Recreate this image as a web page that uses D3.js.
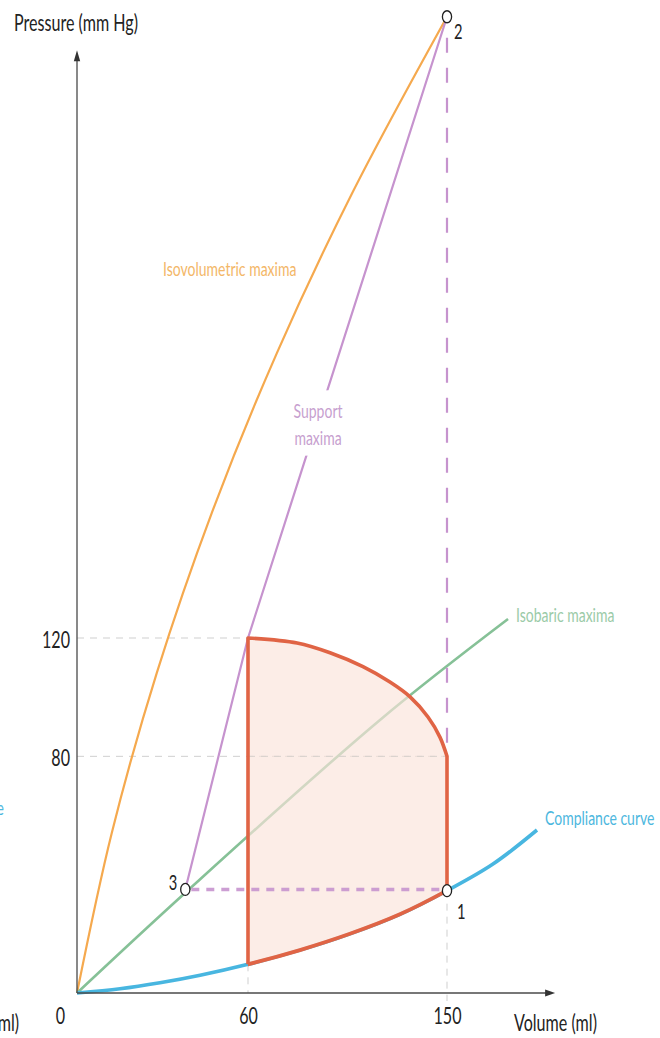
<!DOCTYPE html>
<html><head><meta charset="utf-8">
<script src="https://cdn.jsdelivr.net/npm/d3@7"></script>
<style>
body{margin:0;background:#fff;}
svg{display:block;font-family:Lato,"Open Sans",sans-serif;}
</style>
</head><body>
<svg id="c" width="660" height="1038"></svg>
<script>
// ---------- data (volume ml, pressure mm Hg) ----------
const volumeTicks = [0, 60, 150];
const pressureTicks = [80, 120];
const volumeAxisMax = 198;
const pressureAxisMax = 318;
const isovolumetric = [[0,0],[12.2,54.1],[28.0,108.2],[47.3,162.3],[73.1,216.4],[107.2,270.5],[150,330]];
const isobaric = [[0,0],[37.9,33.8],[119.7,92.3],[177.6,126.4]];
const compliance = [[0,0],[15.1,1.42],[29.1,3.45],[43.2,6.0],[60,9.7],[83.5,14.5],[106.1,20.0],[128.7,26.6],[150,34.6],[170.8,43.6],[190.7,55.1]];
const complianceLoop = [[150,34.6],[128.7,26.6],[106.1,20.0],[83.5,14.5],[60,9.7]];
const ejection = [[60,120],[82.2,118.3],[97.1,115.0],[112.0,110.3],[124.2,105.1],[133.3,100.1],[141.4,93.3],[146.8,86.5],[150,80]];
const support = [[38,35],[60,120],[150,330]];
const points = [{id:"1", v:150, p:34.6},{id:"2", v:150, p:330},{id:"3", v:38, p:35}];

// ---------- setup ----------
const svg = d3.select("#c");
const SX = 0.7; // horizontal squeeze of the original artwork
const x = d3.scaleLinear().domain([0,60,150]).range([77,248,447]);
const y = d3.scaleLinear().domain([0,120]).range([993,638]);
const line = d3.line().x(d=>x(d[0])).y(d=>y(d[1]));
const smooth = d3.line().x(d=>x(d[0])).y(d=>y(d[1])).curve(d3.curveCatmullRom.alpha(0.5));

const C = {orange:"#f5a94e", purple:"#c693ce", green:"#86c197", blue:"#48b6e0", red:"#e06445",
           orangeT:"#f3b768", purpleT:"#c79fcf", greenT:"#9bcba8", blueT:"#4db7de"};

function label(g, txt, px, py, size, color, anchor){
  return g.append("text").attr("transform",`translate(${px},${py}) scale(${SX},1)`)
    .attr("text-anchor",anchor||"start").attr("font-size",size).attr("fill",color).text(txt);
}

// ---------- grid dashed guides ----------
const guides = svg.append("g").attr("stroke","#cfcfcf").attr("stroke-width",1).attr("stroke-dasharray","7,6").attr("fill","none");
guides.append("line").attr("x1",x(0)).attr("x2",x(60)).attr("y1",y(120)).attr("y2",y(120));
guides.append("line").attr("x1",x(0)).attr("x2",x(150)).attr("y1",y(80)).attr("y2",y(80));
guides.append("line").attr("x1",x(60)).attr("x2",x(60)).attr("y1",y(9.7)).attr("y2",y(0));
guides.append("line").attr("x1",x(150)).attr("x2",x(150)).attr("y1",y(34.6)).attr("y2",y(0)+8);

// ---------- curves under the loop ----------
svg.append("path").attr("d",smooth(isovolumetric)).attr("fill","none").attr("stroke",C.orange).attr("stroke-width",2.2);
svg.append("path").attr("d",smooth(isobaric)).attr("fill","none").attr("stroke",C.green).attr("stroke-width",2.6);
svg.append("path").attr("d",smooth(compliance)).attr("fill","none").attr("stroke",C.blue).attr("stroke-width",3.6);

// ---------- loop fill ----------
const topPath = smooth(ejection);
const bottomPath = smooth(complianceLoop).replace(/^M/,"L");
const fillPath = `M${x(60)},${y(9.7)}L${topPath.slice(1)}${bottomPath}Z`;
svg.append("path").attr("d",fillPath).attr("fill","#fbe3da").attr("fill-opacity",0.65).attr("stroke","none");

// guide at 80 drawn again through the fill
svg.append("line").attr("x1",x(60)).attr("x2",x(150)).attr("y1",y(80)).attr("y2",y(80))
  .attr("stroke","#d6d0cc").attr("stroke-width",1).attr("stroke-dasharray","7,6");

// ---------- support maxima ----------
svg.append("path").attr("d",line(support)).attr("fill","none").attr("stroke",C.purple).attr("stroke-width",2.2);
svg.append("line").attr("x1",x(150)).attr("x2",x(150)).attr("y1",y(330)).attr("y2",y(80))
  .attr("stroke",C.purple).attr("stroke-width",2.2).attr("stroke-dasharray","15,15").attr("stroke-dashoffset",9);
svg.append("line").attr("x1",x(38)+6).attr("x2",x(150)-6).attr("y1",y(35)).attr("y2",y(35))
  .attr("stroke",C.purple).attr("stroke-width",3.5).attr("stroke-dasharray","8,7").attr("stroke-opacity",0.9);

// ---------- red outline ----------
svg.append("path").attr("d",`M${x(60)},${y(9.7)}L${topPath.slice(1)}L${x(150)},${y(34.6)}`)
  .attr("fill","none").attr("stroke",C.red).attr("stroke-width",3.6).attr("stroke-linejoin","round");
svg.append("clipPath").attr("id","loopclip").append("rect")
  .attr("x",x(60)).attr("y",0).attr("width",x(150)-x(60)).attr("height",1038);
svg.append("path").attr("d",smooth(compliance)).attr("clip-path","url(#loopclip)")
  .attr("fill","none").attr("stroke",C.red).attr("stroke-width",3.8);

// ---------- axes ----------
const ax = svg.append("g").attr("stroke","#4a4a4a").attr("stroke-width",1.3);
ax.append("line").attr("x1",x(0)).attr("y1",y(0)).attr("x2",x(volumeAxisMax)-2).attr("y2",y(0));
ax.append("line").attr("x1",x(0)).attr("y1",y(0)).attr("x2",x(0)).attr("y2",y(pressureAxisMax)+2);
const xe = x(volumeAxisMax), ye = y(pressureAxisMax);
svg.append("path").attr("d",`M${xe+2},${y(0)}L${xe-8},${y(0)-3.5}L${xe-8},${y(0)+3.5}Z`).attr("fill","#333");
svg.append("path").attr("d",`M${x(0)},${ye-2}L${x(0)-3.2},${ye+9}L${x(0)+3.2},${ye+9}Z`).attr("fill","#333");

const xAxis = svg.append("g").attr("transform",`translate(0,${y(0)})`)
  .call(d3.axisBottom(x).tickValues(volumeTicks).tickSize(0).tickPadding(0));
xAxis.select(".domain").remove();
xAxis.selectAll("text").attr("font-size",23).attr("fill","#222").attr("font-family","Lato")
  .attr("y",0).attr("dy",0).attr("transform",`translate(0,31) scale(${SX},1)`);
xAxis.selectAll(".tick").filter(d=>d===0).select("text").attr("x",-17/SX);

const yAxis = svg.append("g").attr("transform",`translate(${x(0)},0)`)
  .call(d3.axisLeft(y).tickValues(pressureTicks).tickSize(0).tickPadding(0));
yAxis.select(".domain").remove();
yAxis.selectAll("text").attr("font-size",23).attr("fill","#222").attr("font-family","Lato")
  .attr("x",0).attr("dy","0.35em").attr("transform",`translate(-7,1) scale(${SX},1)`);

// ---------- point markers ----------
const pg = svg.append("g");
pg.selectAll("ellipse").data(points).join("ellipse")
  .attr("cx",d=>x(d.v)).attr("cy",d=>y(d.p)).attr("rx",4.6).attr("ry",6)
  .attr("fill","#fff").attr("stroke","#222").attr("stroke-width",1.3);
const plab = {"1":[10,28,"start"],"2":[7,22,"start"],"3":[-8,1,"end"]};
points.forEach(d=>{
  const o = plab[d.id];
  label(pg, d.id, x(d.v)+o[0], y(d.p)+o[1], 21, "#222", o[2]);
});

// ---------- text labels ----------
const tg = svg.append("g");
label(tg,"Pressure (mm Hg)",14,31,23,"#222");
label(tg,"Volume (ml)",514,1031,23,"#222");
label(tg,"Volume (ml)",19,1031,23,"#222","end");
label(tg,"Isovolumetric maxima",163,276,20,C.orangeT);
label(tg,"Isobaric maxima",516,622,20,C.greenT);
label(tg,"Compliance curve",545,825,20,C.blueT);
label(tg,"Compliance curve",4,815,20,C.blueT,"end");

const sg = svg.append("g");
const bgRect = sg.append("rect").attr("fill","#fff");
label(sg,"Support",318,418,20,C.purpleT,"middle");
label(sg,"maxima",318,445,20,C.purpleT,"middle");
const bb = sg.node().getBBox();
bgRect.attr("x",bb.x-4).attr("y",bb.y-8).attr("width",bb.width+8).attr("height",bb.height+14);
</script>
</body></html>
